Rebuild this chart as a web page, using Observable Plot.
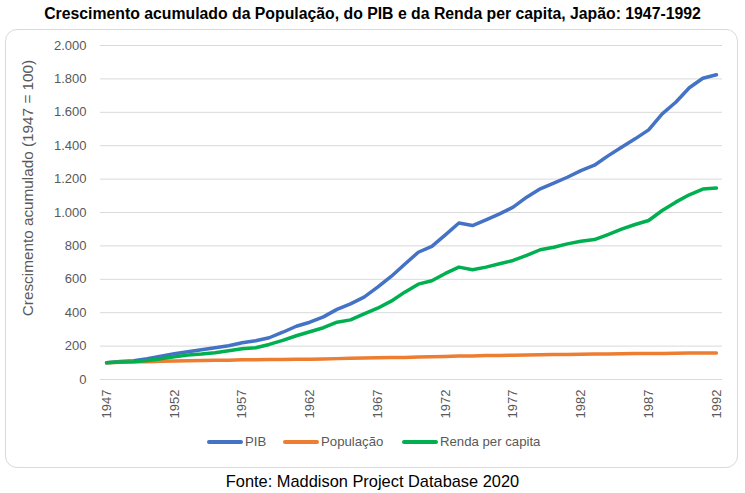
<!DOCTYPE html>
<html>
<head>
<meta charset="utf-8">
<script src="https://cdn.jsdelivr.net/npm/d3@7"></script>
<script src="https://cdn.jsdelivr.net/npm/@observablehq/plot@0.6"></script>
<style>
  html, body { margin: 0; padding: 0; background: #fff; }
  #wrap { position: relative; width: 745px; height: 493px; font-family: "Liberation Sans", Arial, sans-serif; overflow: hidden; }
  #title { position: absolute; top: 5px; left: 0; width: 745px; text-align: center; font-weight: bold; font-size: 15.8px; color: #000; }
  #box { position: absolute; left: 5px; top: 29px; width: 733px; height: 439px; border: 1px solid #d9d9d9; border-radius: 12px; box-sizing: border-box; }
  #chart { position: absolute; left: 0; top: 0; }
  #ylabel { position: absolute; left: 28px; top: 188px; transform: translate(-50%, -50%) rotate(-90deg); white-space: nowrap; font-size: 15.3px; color: #595959; }
  #legend { position: absolute; top: 434px; left: 0; width: 745px; font-size: 13.2px; color: #595959; }
  .item { position: absolute; display: flex; align-items: center; }
  .sw { display: inline-block; width: 36px; height: 4px; border-radius: 2px; margin-right: 2px; }
  #caption { position: absolute; top: 472px; left: 0; width: 745px; text-align: center; font-size: 16.4px; color: #000; }
</style>
</head>
<body>
<div id="wrap">
  <div id="box"></div>
  <div id="title">Crescimento acumulado da População, do PIB e da Renda per capita, Japão: 1947-1992</div>
  <div id="chart"></div>
  <div id="ylabel">Crescimento acumulado (1947 = 100)</div>
  <div id="legend"></div>
  <div id="caption">Fonte: Maddison Project Database 2020</div>
</div>
<script>
const years = d3.range(1947, 1993);
const pib = [100,108,113,124,140,154,166,178,190,202,220,232,250,283,319,343,375,420,453,493,553,617,690,762,797,866,937,922,956,992,1032,1092,1142,1176,1211,1251,1283,1339,1391,1441,1495,1591,1660,1747,1804,1825];
const populacao = [100,103,106,107,109,111,113,114,115,116,118,119,120,120,121,122,123,125,127,128,130,131,132,134,136,138,140,141,143,144,145,146,148,150,150,151,152,153,154,155,156,156,157,158,158,159];
const renda = [100,105,106,114,124,136,146,152,160,172,184,190,210,234,262,286,310,343,357,393,427,469,523,571,591,635,673,657,673,693,713,743,777,792,812,828,838,868,900,928,952,1012,1062,1106,1140,1146];
const seriesNames = ["PIB", "População", "Renda per capita"];
const colors = ["#4472C4", "#ED7D31", "#00B050"];
const yTicks = [0,200,400,600,800,1000,1200,1400,1600,1800,2000];
const xTicks = [1947,1952,1957,1962,1967,1972,1977,1982,1987,1992];

const rows = [];
[pib, populacao, renda].forEach((vals, i) => {
  vals.forEach((v, j) => rows.push({year: years[j], value: v, serie: seriesNames[i]}));
});

const ptFormat = d3.formatLocale({decimal: ",", thousands: ".", grouping: [3], currency: ["", ""]}).format(",d");

const plot = Plot.plot({
  width: 745,
  height: 430,
  marginLeft: 100,
  marginRight: 23,
  marginTop: 45,
  marginBottom: 51,
  style: {fontFamily: "Liberation Sans, Arial, sans-serif", background: "transparent", color: "#595959"},
  x: {domain: [1946.55, 1992.45]},
  y: {domain: [0, 2000]},
  color: {domain: seriesNames, range: colors},
  marks: [
    Plot.gridY(yTicks, {stroke: "#d9d9d9", strokeOpacity: 1, strokeWidth: 1}),
    Plot.axisY(yTicks, {tickSize: 0, tickPadding: 14, tickFormat: ptFormat, fontSize: 13, fill: "#595959", label: null}),
    Plot.axisX(xTicks, {tickSize: 0, tickPadding: 10, tickRotate: -90, tickFormat: d => String(d), fontSize: 13, fill: "#595959", label: null}),
    Plot.line(rows, {x: "year", y: "value", z: "serie", stroke: "serie", strokeWidth: 3.5, strokeLinejoin: "round", strokeLinecap: "round"})
  ]
});
document.getElementById("chart").appendChild(plot);

const legend = document.getElementById("legend");
const lefts = [207, 283, 402];
seriesNames.forEach((name, i) => {
  const it = document.createElement("div");
  it.className = "item";
  it.style.left = lefts[i] + "px";
  const sw = document.createElement("span");
  sw.className = "sw";
  sw.style.background = colors[i];
  const tx = document.createElement("span");
  tx.textContent = name;
  it.appendChild(sw);
  it.appendChild(tx);
  legend.appendChild(it);
});
</script>
</body>
</html>
